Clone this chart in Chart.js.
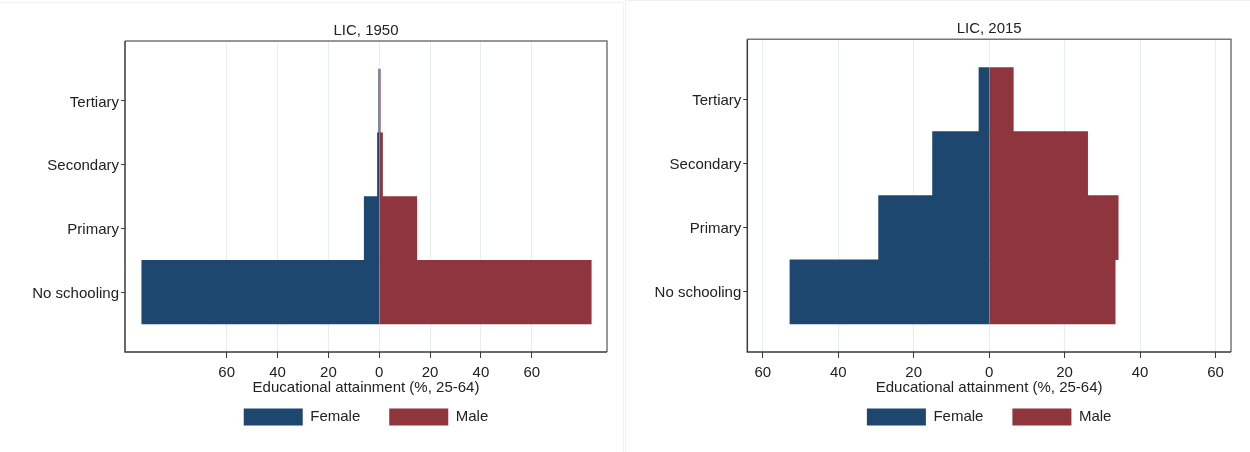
<!DOCTYPE html>
<html>
<head>
<meta charset="utf-8">
<script src="https://cdn.jsdelivr.net/npm/chart.js@4.4.1/dist/chart.umd.min.js"></script>
<style>
  html, body { margin: 0; padding: 0; background: #fff; }
  body { width: 1250px; height: 452px; position: relative; overflow: hidden; }
  .panel { position: absolute; box-sizing: border-box; }
  #panelA { left: 0; top: 2px; width: 624px; height: 450px; border-top: 1px solid #f2f2f2; border-right: 1px solid #f2f2f2; }
  #panelB { left: 625px; top: 0; width: 625px; height: 452px; border-top: 1px solid #f2f2f2; border-left: 1px solid #f2f2f2; }
  canvas { position: absolute; top: 0; }
  #chart1950 { left: 0; }
  #chart2015 { left: 625px; }
</style>
</head>
<body>
<div class="panel" id="panelA"></div>
<div class="panel" id="panelB"></div>
<canvas id="chart1950" width="622" height="452"></canvas>
<canvas id="chart2015" width="625" height="452"></canvas>
<script>
// Education levels, bottom to top, and their positions on the vertical axis
const categories = ['No schooling', 'Primary', 'Secondary', 'Tertiary'];
const levelIndex = [1, 2, 3, 4];

// Share of the population aged 25-64 by attainment (%)
const female1950 = [93.4, 5.9, 0.7, 0.2];
const male1950 = [83.4, 14.8, 1.3, 0.4];
const female2015 = [52.8, 29.3, 15.0, 2.7];
const male2015 = [33.4, 34.2, 26.1, 6.4];

// Horizontal axis ticks (female side drawn as negative values)
const xTickValues = [-60, -40, -20, 0, 20, 40, 60];

const seriesNames = ['Female', 'Male'];
const panelTitles = ['LIC, 1950', 'LIC, 2015'];
const axisTitle = 'Educational attainment (%, 25-64)';

const FONT = "'Liberation Sans', Arial, sans-serif";
const TEXT = '#222222';
const FEMALE_COLOR = '#1d476e';
const MALE_COLOR = '#8e353d';

// Outline around the plot region
const plotFrame = {
  id: 'plotFrame',
  afterDatasetsDraw(chart) {
    const { ctx, chartArea: a } = chart;
    ctx.save();
    ctx.lineWidth = 1.5;
    ctx.strokeStyle = '#777777';
    ctx.beginPath();
    ctx.moveTo(a.left, a.top);
    ctx.lineTo(a.right, a.top);
    ctx.lineTo(a.right, a.bottom);
    ctx.stroke();
    ctx.strokeStyle = '#3a3a3a';
    ctx.beginPath();
    ctx.moveTo(a.left, a.top);
    ctx.lineTo(a.left, a.bottom);
    ctx.lineTo(a.right, a.bottom);
    ctx.stroke();
    ctx.restore();
  }
};

function pyramid(canvasId, title, female, male, xMin, xMax, yAxisWidth, layoutPad, titlePad) {
  const font = { family: FONT, size: 15, weight: 'normal', lineHeight: 1 };
  return new Chart(document.getElementById(canvasId), {
    type: 'bar',
    data: {
      datasets: [
        {
          label: seriesNames[0],
          data: female.map((v, i) => ({ x: -v, y: levelIndex[i] })),
          backgroundColor: FEMALE_COLOR,
          borderWidth: 0,
          grouped: false,
          barPercentage: 1,
          categoryPercentage: 1
        },
        {
          label: seriesNames[1],
          data: male.map((v, i) => ({ x: v, y: levelIndex[i] })),
          backgroundColor: MALE_COLOR,
          borderWidth: 0,
          grouped: false,
          barPercentage: 1,
          categoryPercentage: 1
        }
      ]
    },
    options: {
      indexAxis: 'y',
      responsive: false,
      animation: false,
      devicePixelRatio: 1,
      layout: { padding: layoutPad },
      plugins: {
        title: {
          display: true,
          fullSize: false,
          text: title,
          color: TEXT,
          font: { family: FONT, size: 15, weight: 'normal', lineHeight: 1.2 },
          padding: titlePad
        },
        legend: {
          position: 'bottom',
          fullSize: false,
          labels: {
            boxWidth: 59,
            boxHeight: 17,
            padding: 29,
            color: TEXT,
            font: { family: FONT, size: 15 }
          }
        },
        tooltip: { enabled: false }
      },
      scales: {
        x: {
          type: 'linear',
          min: xMin,
          max: xMax,
          offset: false,
          afterBuildTicks: s => { s.ticks = xTickValues.map(v => ({ value: v })); },
          ticks: {
            callback: v => Math.abs(v),
            color: TEXT,
            font: font,
            padding: 7,
            autoSkip: false,
            maxRotation: 0
          },
          grid: { color: '#e6ecf1', lineWidth: 1, tickColor: '#3a3a3a', tickLength: 6, offset: false },
          border: { display: false },
          title: {
            display: true,
            text: axisTitle,
            color: TEXT,
            font: font,
            padding: { top: -6.5, bottom: -16 }
          }
        },
        y: {
          type: 'linear',
          min: 0.06,
          max: 4.94,
          offset: false,
          afterBuildTicks: s => { s.ticks = levelIndex.map(v => ({ value: v })); },
          afterFit: s => { s.width = yAxisWidth; },
          ticks: {
            callback: (v, i) => categories[i],
            color: TEXT,
            font: font,
            padding: 2,
            labelOffset: 1.5,
            autoSkip: false
          },
          grid: { drawOnChartArea: false, tickColor: '#3a3a3a', tickLength: 4, offset: false },
          border: { display: false }
        }
      }
    },
    plugins: [plotFrame]
  });
}

pyramid('chart1950', panelTitles[0], female1950, male1950, -100, 89.6, 125,
  { left: 0, right: 15, top: 0, bottom: 16.5 }, { top: 22, bottom: 1 });
pyramid('chart2015', panelTitles[1], female2015, male2015, -64.1, 64.1, 122.3,
  { left: 0, right: 19, top: 0, bottom: 16.5 }, { top: 20.3, bottom: 1 });
</script>
</body>
</html>
